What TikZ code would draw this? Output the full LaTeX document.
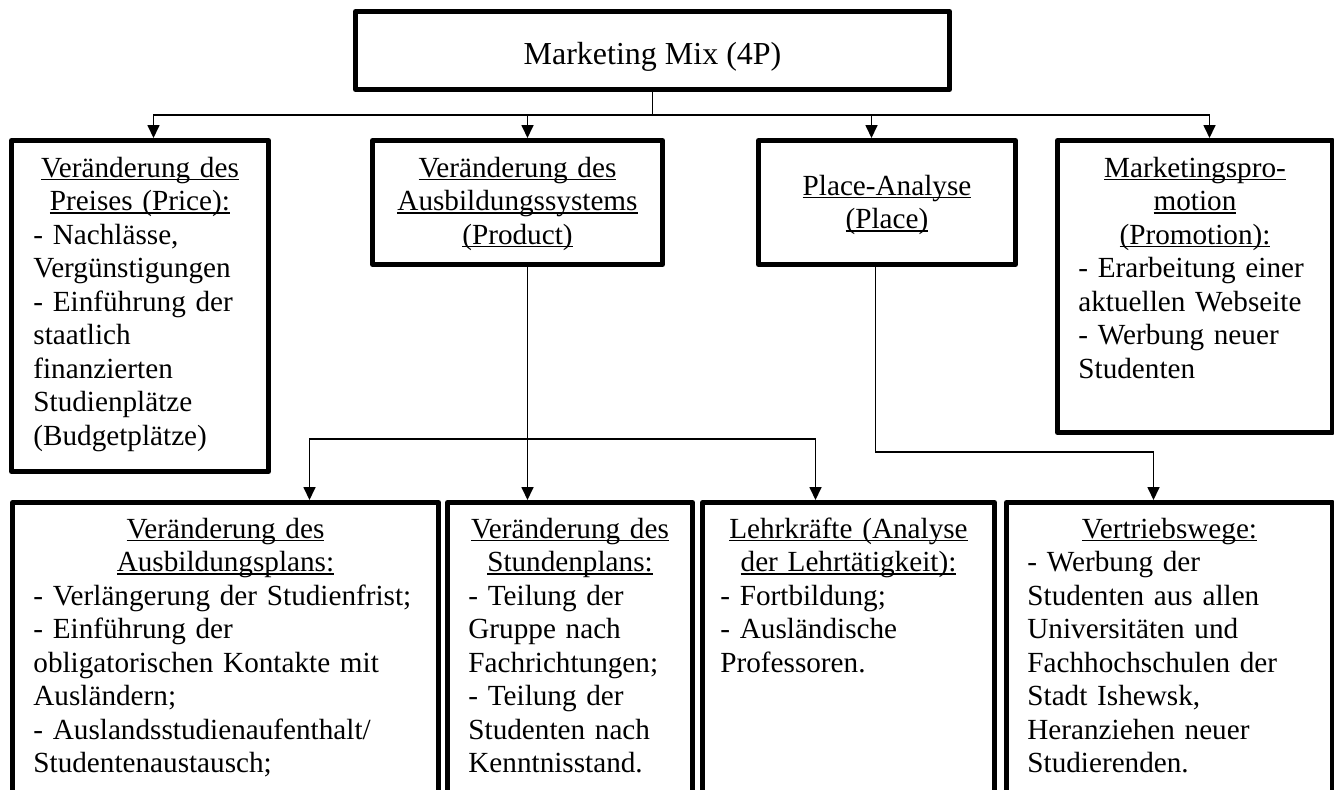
\documentclass[tikz,border=0pt]{standalone}
\usepackage{fontspec}
\setmainfont{Liberation Serif}
\usetikzlibrary{arrows.meta, calc}
\newcommand{\boxfont}{\fontsize{14.6}{16.75}\selectfont}
\newcommand{\uln}[1]{\leavevmode\setbox0\hbox{#1}\rlap{\rule[-1.6pt]{\wd0}{0.75pt}}\box0}

\begin{document}
\begin{tikzpicture}[x=0.5pt, y=-0.5pt, >={Triangle[length=6.5pt, width=6pt]},
    box/.style={draw, line width=2.5pt, line join=round, inner sep=0pt, anchor=north west},
    head/.style={inner sep=0pt, anchor=base, align=center, font=\boxfont, text width=#1},
    body/.style={inner sep=0pt, anchor=base west, align=left, font=\boxfont, text width=#1},
    conn/.style={line width=0.85pt, ->}]
    \useasboundingbox (0,0) rectangle (1334,789);
    \clip (0,0) rectangle (1334,789);

    % top
    \node[box, minimum width=297pt, minimum height=39pt, font=\fontsize{16}{19}\selectfont,
          text height=14pt, text depth=0pt] (mix) at (353,9) {Marketing Mix (4P)};

    % second level
    \node[box, minimum width=128.5pt, minimum height=165.5pt] (price) at (9,138) {};
    \node[box, minimum width=145pt, minimum height=62pt] (product) at (370,138) {};
    \node[box, minimum width=128.5pt, minimum height=62pt] (place) at (756,138) {};
    \node[box, minimum width=137.5pt, minimum height=146pt] (promo) at (1055,138) {};

    \node[head=128.5pt] (pricehead) at ($(price.north)+(0,39)$) {\uln{Veränderung des}\\\uln{Preises (Price):}};
    \node[body=115pt] (pricebody) at ($(price.north west)+(24,106)$) {- Nachlässe,\\Vergünstigungen\\- Einführung der\\staatlich\\finanzierten\\Studienplätze\\(Budgetplätze)};
    \node[head=145pt] (producthead) at ($(product.north)+(0,39)$) {\uln{Veränderung des}\\\uln{Ausbildungssystems}\\\uln{(Product)}};
    \node[head=128.5pt] (placehead) at ($(place.north)+(0,57)$) {\uln{Place-Analyse}\\\uln{(Place)}};
    \node[head=137.5pt] (promohead) at ($(promo.north)+(0,39)$) {\uln{Marketingspro-}\\\uln{motion}\\\uln{(Promotion):}};
    \node[body=125pt] (promobody) at ($(promo.north west)+(23,139.5)$) {- Erarbeitung einer\\aktuellen Webseite\\- Werbung neuer\\Studenten};

    % third level
    \node[box, minimum width=213pt, minimum height=155pt] (plan) at (10,500) {};
    \node[box, minimum width=122.5pt, minimum height=155pt] (schedule) at (445,500) {};
    \node[box, minimum width=146pt, minimum height=155pt] (staff) at (700,500) {};
    \node[box, minimum width=163pt, minimum height=155pt] (sales) at (1004,500) {};

    \node[head=213pt] (planhead) at ($(plan.north)+(0,38)$) {\uln{Veränderung des}\\\uln{Ausbildungsplans:}};
    \node[body=200pt] (planbody) at ($(plan.north west)+(23,105)$) {- Verlängerung der Studienfrist;\\- Einführung der\\obligatorischen Kontakte mit\\Ausländern;\\- Auslandsstudienaufenthalt/\\Studentenaustausch;};
    \node[head=122.5pt] (schedulehead) at ($(schedule.north)+(0,38)$) {\uln{Veränderung des}\\\uln{Stundenplans:}};
    \node[body=108pt] (schedulebody) at ($(schedule.north west)+(23,105)$) {- Teilung der\\Gruppe nach\\Fachrichtungen;\\- Teilung der\\Studenten nach\\Kenntnisstand.};
    \node[head=146pt] (staffhead) at ($(staff.north)+(0,38)$) {\uln{Lehrkräfte (Analyse}\\\uln{der Lehrtätigkeit):}};
    \node[body=130pt] (staffbody) at ($(staff.north west)+(20,105)$) {- Fortbildung;\\- Ausländische\\Professoren.};
    \node[head=163pt] (saleshead) at ($(sales.north)+(0,38)$) {\uln{Vertriebswege:}};
    \node[body=150pt] (salesbody) at ($(sales.north west)+(23,71.5)$) {- Werbung der\\Studenten aus allen\\Universitäten und\\Fachhochschulen der\\Stadt Ishewsk,\\Heranziehen neuer\\Studierenden.};

    % connectors
    \draw[conn] (mix.south) -- ++(0,23) -| ($(price.north)+(13.5,0)$);
    \draw[conn] (mix.south) -- ++(0,23) -| ($(product.north)+(10,0)$);
    \draw[conn] (mix.south) -- ++(0,23) -| ($(place.north)+(-15.5,0)$);
    \draw[conn] (mix.south) -- ++(0,23) -| ($(promo.north)+(14.5,0)$);
    \draw[conn] ($(product.south)+(10,0)$) -- ($(schedule.north)+(-42.5,0)$);
    \draw[conn] ($(product.south)+(10,0)$) -- ++(0,172) -| ($(plan.north)+(84,0)$);
    \draw[conn] ($(product.south)+(10,0)$) -- ++(0,172) -| ($(staff.north)+(-33,0)$);
    \draw[conn] ($(place.south)+(-11.5,0)$) -- ++(0,185) -| ($(sales.north)+(-16,0)$);
\end{tikzpicture}
\end{document}
